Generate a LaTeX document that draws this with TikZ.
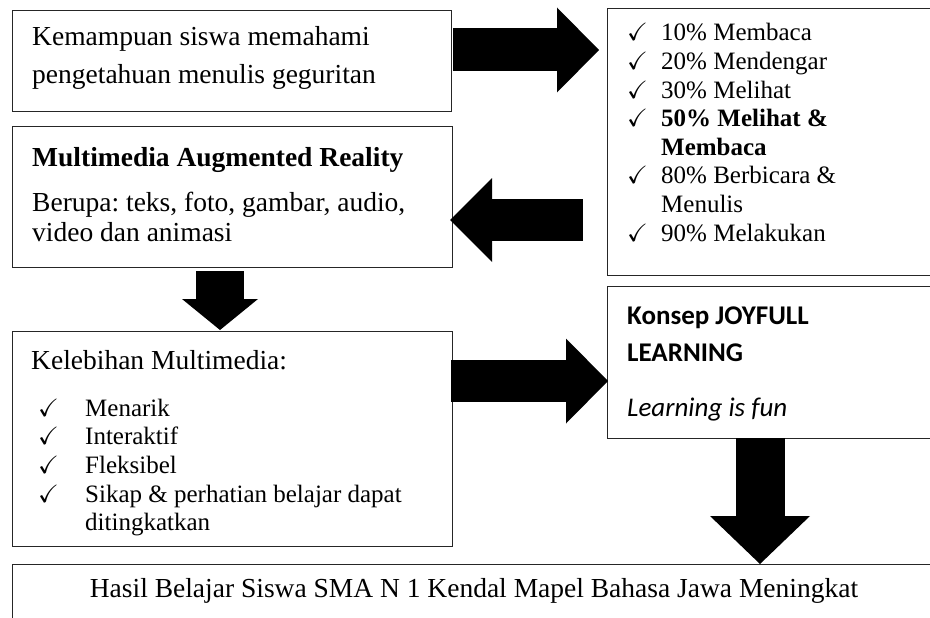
\documentclass[tikz,border=0pt]{standalone}
\usepackage{fontspec}
\usepackage{amssymb}
\setmainfont{Liberation Serif}
\newfontfamily\carlito{Carlito}
\usetikzlibrary{arrows.meta}
\frenchspacing
\newcommand{\besar}{\fontsize{27.5}{38}\selectfont}
\newcommand{\kecil}{\fontsize{25}{28.6}\selectfont}
\newcommand{\cek}[1]{\makebox[#1][l]{$\checkmark$}}

\tikzset{
  kotak/.style={draw=black!85, line width=1.2pt, anchor=north west, inner sep=0pt},
  teks/.style={anchor=base west, inner sep=0pt},
  blok/.style n args={3}{line width=#1, -{Triangle[length=#3, width=#2, line width=0pt]}},
}

\begin{document}
\begin{tikzpicture}[x=1pt,y=-1pt]
        \fill[white] (0,0) rectangle (930,618);
        \useasboundingbox (0,0) rectangle (930,618);
        % kotak
        \node[kotak, minimum width=439pt, minimum height=101pt] (kemampuan) at (12,10) {};
        \node[kotak, minimum width=440pt, minimum height=141pt] (multimedia) at (12,126) {};
        \node[kotak, minimum width=328pt, minimum height=267pt] (persen) at (607,8) {};
        \node[kotak, minimum width=440pt, minimum height=215pt] (kelebihan) at (12,331) {};
        \node[kotak, minimum width=328pt, minimum height=152pt] (konsep) at (607,286) {};
        \node[kotak, minimum width=923pt, minimum height=70pt] (hasil) at (12,564) {};
        % teks
        \node[teks, font=\besar] (tkemampuan) at (32,46) {\begin{tabular}[t]{@{}l@{}}Kemampuan siswa memahami\\pengetahuan menulis geguritan\end{tabular}};
        \node[teks, font=\besar\bfseries] (tjudul) at (32,166) {Multimedia Augmented Reality};
        \node[teks, font=\fontsize{27.5}{30}\selectfont] (tberupa) at (32,211) {\begin{tabular}[t]{@{}l@{}}Berupa: teks, foto, gambar, audio,\\video dan animasi\end{tabular}};
        \node[teks, font=\kecil] (tpersen) at (627,41) {\begin{tabular}[t]{@{}l@{}l@{}}
          \cek{34pt} & 10\% Membaca\\
          \cek{34pt} & 20\% Mendengar\\
          \cek{34pt} & 30\% Melihat\\
          \cek{34pt} & \textbf{50\% Melihat \&}\\
                     & \textbf{Membaca}\\
          \cek{34pt} & 80\% Berbicara \&\\
                     & Menulis\\
          \cek{34pt} & 90\% Melakukan
        \end{tabular}};
        \node[teks, font=\besar] (tkelebihan) at (31,369) {Kelebihan Multimedia:};
        \node[teks, font=\fontsize{25}{28.7}\selectfont] (titem) at (38,416) {\begin{tabular}[t]{@{}l@{}l@{}}
          \cek{47pt} & Menarik\\
          \cek{47pt} & Interaktif\\
          \cek{47pt} & Fleksibel\\
          \cek{47pt} & Sikap \& perhatian belajar dapat\\
                     & ditingkatkan
        \end{tabular}};
        \node[teks, font=\carlito\fontsize{27}{37}\selectfont\bfseries] (tkonsep) at (627,324) {\begin{tabular}[t]{@{}l@{}}Konsep JOYFULL\\LEARNING\end{tabular}};
        \node[teks, font=\carlito\fontsize{27}{37}\selectfont\itshape] (tfun) at (627,416) {Learning is fun};
        \node[anchor=base, inner sep=0pt, font=\besar] (thasil) at (474,597) {Hasil Belajar Siswa SMA N 1 Kendal Mapel Bahasa Jawa Meningkat};
        % panah
        \coordinate (p1a) at (453,50);  \coordinate (p1b) at (599,50);
        \coordinate (p2a) at (583,220); \coordinate (p2b) at (450,220);
        \coordinate (p3a) at (220,271); \coordinate (p3b) at (220,330);
        \coordinate (p4a) at (451,381); \coordinate (p4b) at (608,381);
        \coordinate (p5a) at (760,438); \coordinate (p5b) at (760,564);
        \draw[blok={43pt}{85pt}{42pt}] (p1a) -- (p1b);
        \draw[blok={42pt}{84pt}{42pt}] (p2a) -- (p2b);
        \draw[blok={48pt}{76pt}{31pt}] (p3a) -- (p3b);
        \draw[blok={42pt}{85pt}{42pt}] (p4a) -- (p4b);
        \draw[blok={49pt}{100pt}{48pt}] (p5a) -- (p5b);
      \end{tikzpicture}
\end{document}
